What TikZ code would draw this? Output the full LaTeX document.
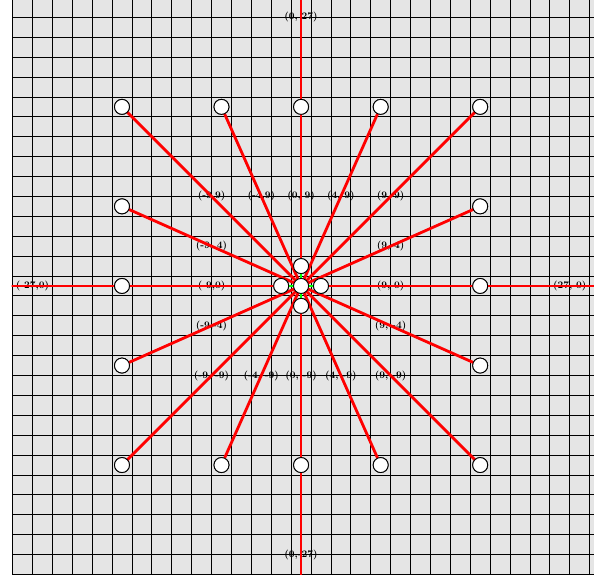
\documentclass[tikz,border=0pt]{standalone}
\begin{document}
\begin{tikzpicture}[x=19.9pt,y=19.9pt,
  dot/.style={circle,draw=black,fill=white,line width=0.9pt,minimum size=15pt,inner sep=0pt},
  ray/.style={draw=red,line width=2.8pt},
  link/.style={draw=green,line width=2.8pt},
  lbl/.style={font=\bfseries,text=black,inner sep=0pt},
  gridline/.style={black,line width=0.8pt}]
\useasboundingbox (-15.13,-14.52) rectangle (14.72,14.37);
\clip (-14.55,-14.52) rectangle (14.72,14.37);
\fill[black!10] (-14.5,-14.52) rectangle (14.72,14.37);
% labels at midpoints
\foreach \a/\b/\t in {-9/9/{(-9,9)},-4/9/{(-4,9)},0/9/{(0, 9)},4/9/{(4, 9)},9/9/{(9, 9)},
  -9/4/{(-9, 4)},9/4/{(9, 4)},-9/0/{(-9,0)},9/0/{(9, 0)},
  -9/-4/{(-9,-4)},9/-4/{(9, -4)},
  -9/-9/{(-9, -9)},-4/-9/{(-4, -9)},0/-9/{(0, -9)},4/-9/{(4, -9)},9/-9/{(9, -9)},
  -27/0/{(-27,0)},27/0/{(27, 0)},0/27/{(0, 27)},0/-27/{(0,-27)}}
  \node[lbl] (l\a\b) at ({\a/2},{\b/2}) {\t};
% grid
\foreach \x in {-14.5,-13.5,...,14.5} \draw[gridline] (\x,-14.52) -- (\x,14.37);
\foreach \y in {-14.5,-13.5,...,14.5} \draw[gridline] (-14.5,\y) -- (14.72,\y);
% nodes
\node[dot] (c) at (0,0) {};
\node[dot] (n1) at (0,1) {};
\node[dot] (s1) at (0,-1) {};
\node[dot] (e1) at (1,0) {};
\node[dot] (w1) at (-1,0) {};
\foreach \a/\b/\n in {-9/9/o1,-4/9/o2,0/9/o3,4/9/o4,9/9/o5,-9/4/o6,9/4/o7,-9/0/o8,9/0/o9,
  -9/-4/o10,9/-4/o11,-9/-9/o12,-4/-9/o13,0/-9/o14,4/-9/o15,9/-9/o16}
  \node[dot] (\n) at (\a,\b) {};
\coordinate (fw) at (-27,0);
\coordinate (fe) at (27,0);
\coordinate (fn) at (0,27);
\coordinate (fs) at (0,-27);
% rays
\foreach \n in {o1,o2,o3,o4,o5,o6,o7,o8,o9,o10,o11,o12,o13,o14,o15,o16}
  \draw[ray] (c.center) -- (\n.center);
\foreach \n in {fw,fe,fn,fs}
  \draw[ray] (c.center) -- (\n);
\foreach \n in {n1,s1,e1,w1}
  \draw[link] (c.center) -- (\n.center);
% redraw nodes on top
\foreach \n in {o1,o2,o3,o4,o5,o6,o7,o8,o9,o10,o11,o12,o13,o14,o15,o16,n1,s1,e1,w1}
  \node[dot] at (\n) {};
\node[dot] at (c) {};
\end{tikzpicture}
\end{document}
